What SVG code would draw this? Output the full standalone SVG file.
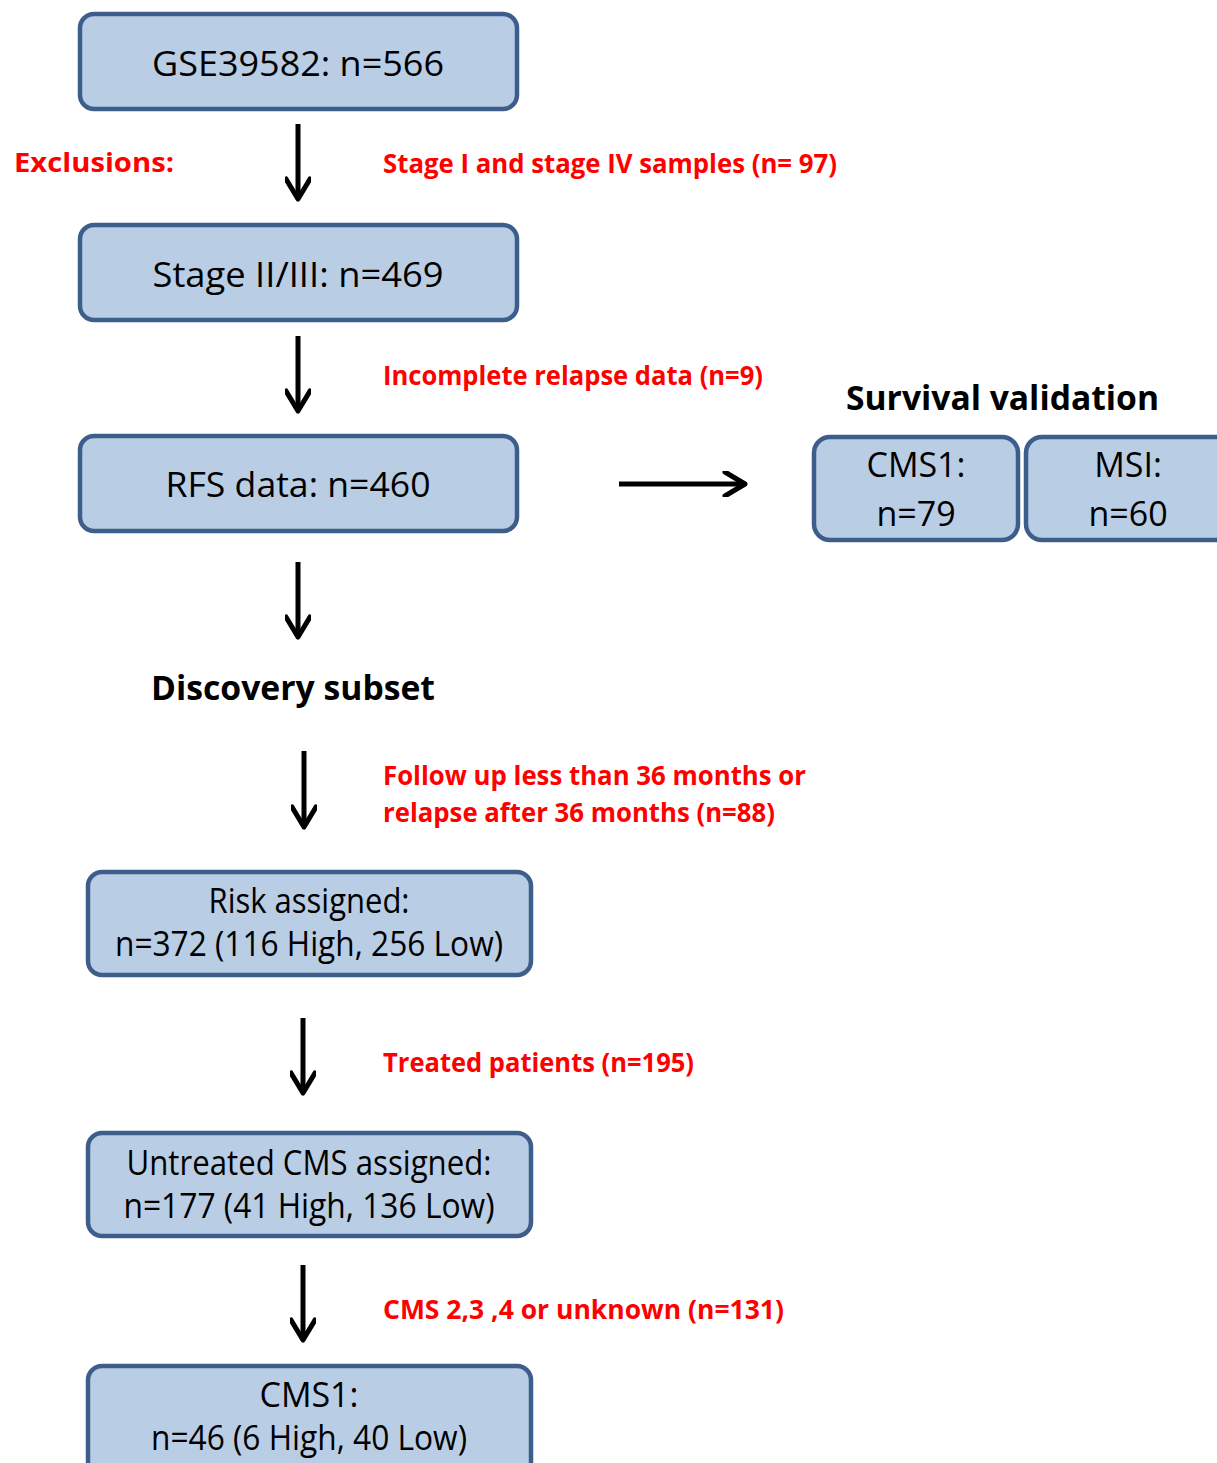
<svg xmlns="http://www.w3.org/2000/svg" width="1217" height="1463" viewBox="0 0 1217 1463">
<style>
.box{fill:#b9cde5;stroke:#3d5e8a;stroke-width:4.5}
.bt{font-family:"Open Sans","Liberation Sans",sans-serif;font-size:34px;fill:#000;text-anchor:middle}
.red{font-family:"Open Sans","Liberation Sans",sans-serif;font-weight:bold;font-size:27px;fill:#ff0000}
.hd{font-family:"Open Sans","Liberation Sans",sans-serif;font-weight:bold;font-size:34px;fill:#000}
.ar{stroke:#000;stroke-width:5;fill:none;marker-end:url(#ah)}
</style>
<defs>
<marker id="ah" viewBox="0 0 26 26" refX="23" refY="13" markerWidth="26" markerHeight="26" markerUnits="userSpaceOnUse" orient="auto">
<path d="M3,1 L23,13 L3,25" fill="none" stroke="#000" stroke-width="5" stroke-linecap="round" stroke-linejoin="round"/>
</marker>
</defs>
<rect width="1217" height="1463" fill="#fff"/>
<g id="connectors">
<line class="ar" x1="298" y1="124" x2="298" y2="199"/>
<line class="ar" x1="298" y1="336" x2="298" y2="411"/>
<line class="ar" x1="298" y1="562" x2="298" y2="637"/>
<line class="ar" x1="619" y1="484" x2="745" y2="484"/>
<line class="ar" x1="304" y1="751" x2="304" y2="827"/>
<line class="ar" x1="303" y1="1018" x2="303" y2="1093"/>
<line class="ar" x1="303" y1="1265" x2="303" y2="1340"/>
</g>
<g id="n1"><rect class="box" x="80" y="14" width="437" height="95" rx="14"/><text class="bt" x="298" y="76" textLength="292" lengthAdjust="spacingAndGlyphs">GSE39582: n=566</text></g>
<g id="n2"><rect class="box" x="80" y="225" width="437" height="95" rx="14"/><text class="bt" x="298" y="287" textLength="291" lengthAdjust="spacingAndGlyphs">Stage II/III: n=469</text></g>
<g id="n3"><rect class="box" x="80" y="436" width="437" height="95" rx="14"/><text class="bt" x="298" y="497" textLength="265" lengthAdjust="spacingAndGlyphs">RFS data: n=460</text></g>
<g id="n4"><rect class="box" x="814" y="437" width="204" height="103" rx="16"/><text class="bt" x="916" y="477">CMS1:</text><text class="bt" x="916" y="526">n=79</text></g>
<g id="n5"><rect class="box" x="1026" y="437" width="220" height="103" rx="16"/><text class="bt" x="1128" y="477">MSI:</text><text class="bt" x="1128" y="526">n=60</text></g>
<g id="n6"><rect class="box" x="88" y="872" width="443" height="103" rx="14"/><text class="bt" x="309" y="913" textLength="201" lengthAdjust="spacingAndGlyphs">Risk assigned:</text><text class="bt" x="309" y="956" textLength="388" lengthAdjust="spacingAndGlyphs">n=372 (116 High, 256 Low)</text></g>
<g id="n7"><rect class="box" x="88" y="1133" width="443" height="103" rx="14"/><text class="bt" x="309" y="1175" textLength="365" lengthAdjust="spacingAndGlyphs">Untreated CMS assigned:</text><text class="bt" x="309" y="1218" textLength="371" lengthAdjust="spacingAndGlyphs">n=177 (41 High, 136 Low)</text></g>
<g id="n8"><rect class="box" x="88" y="1366" width="443" height="130" rx="14"/><text class="bt" x="309" y="1407">CMS1:</text><text class="bt" x="309" y="1450" textLength="316" lengthAdjust="spacingAndGlyphs">n=46 (6 High, 40 Low)</text></g>
<g id="labels">
<text class="red" x="14" y="172" font-size="30" textLength="160" lengthAdjust="spacingAndGlyphs">Exclusions:</text>
<text class="red" x="383" y="173" textLength="454" lengthAdjust="spacingAndGlyphs">Stage I and stage IV samples (n= 97)</text>
<text class="red" x="383" y="385" textLength="380" lengthAdjust="spacingAndGlyphs">Incomplete relapse data (n=9)</text>
<text class="hd" x="846" y="410" textLength="313" lengthAdjust="spacingAndGlyphs">Survival validation</text>
<text class="hd" x="151" y="700" textLength="284" lengthAdjust="spacingAndGlyphs">Discovery subset</text>
<text class="red" x="383" y="785" textLength="423" lengthAdjust="spacingAndGlyphs">Follow up less than 36 months or</text>
<text class="red" x="383" y="822" textLength="392" lengthAdjust="spacingAndGlyphs">relapse after 36 months (n=88)</text>
<text class="red" x="383" y="1072" textLength="311" lengthAdjust="spacingAndGlyphs">Treated patients (n=195)</text>
<text class="red" x="383" y="1319" textLength="401" lengthAdjust="spacingAndGlyphs">CMS 2,3 ,4 or unknown (n=131)</text>
</g>
</svg>
